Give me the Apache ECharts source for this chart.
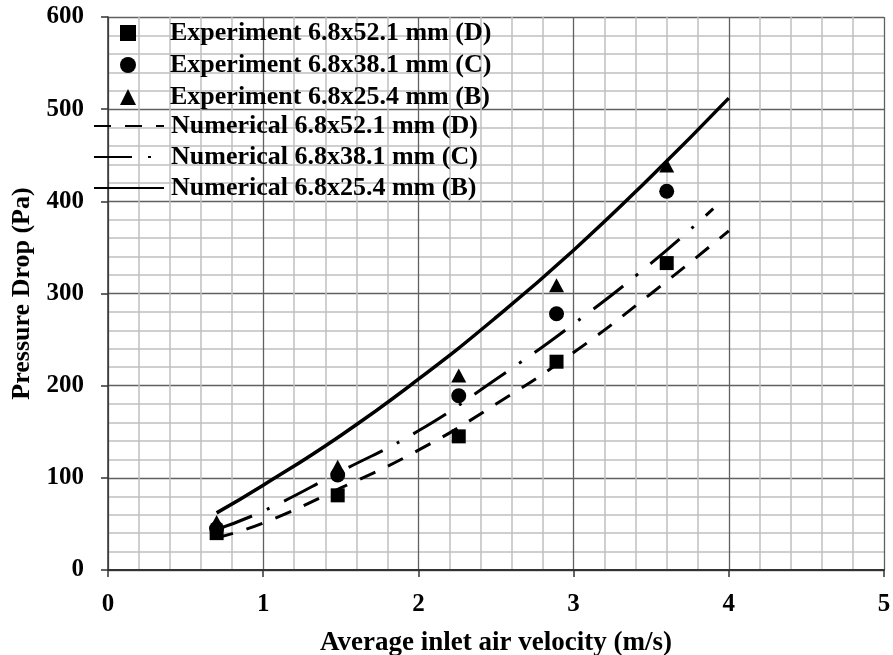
<!DOCTYPE html>
<html>
<head>
<meta charset="utf-8">
<script src="https://cdn.jsdelivr.net/npm/echarts@6/dist/echarts.min.js"></script>
<style>
html,body{margin:0;padding:0;background:#fff;}
#chart{width:893px;height:655px;}
</style>
</head>
<body>
<div id="chart"></div>
<script>
// ---- data ----
const xExp = [0.7, 1.48, 2.26, 2.89, 3.6];
const expD = [40, 81, 145, 226, 333];
const expC = [45, 103, 189, 278, 411];
const expB = [52, 112, 211, 309, 439];

const xNumBD = [0.7, 1.0, 1.5, 2.0, 2.5, 3.0, 3.5, 4.0];
const numD = [35, 51, 89, 130, 180, 236, 300, 368];
const numB = [62, 92, 146, 207, 274, 347, 427, 512];
const xNumC = [0.7, 1.0, 1.5, 2.0, 2.5, 3.0, 3.5, 3.9];
const numC = [44, 64, 107, 151, 207, 267, 333, 392];

const xTicks = [0, 1, 2, 3, 4, 5];
const yTicks = [0, 100, 200, 300, 400, 500, 600];

const names = {
  eD: 'Experiment 6.8x52.1 mm (D)',
  eC: 'Experiment 6.8x38.1 mm (C)',
  eB: 'Experiment 6.8x25.4 mm (B)',
  nD: 'Numerical 6.8x52.1 mm (D)',
  nC: 'Numerical 6.8x38.1 mm (C)',
  nB: 'Numerical 6.8x25.4 mm (B)'
};

function pairs(xs, ys) { return xs.map((x, i) => [x, ys[i]]); }

const FONT = 'Liberation Serif';
const chart = echarts.init(document.getElementById('chart'), null, {renderer: 'canvas'});

const option = {
  animation: false,
  backgroundColor: '#ffffff',
  grid: {left: 108, right: 9, top: 17, bottom: 85, containLabel: false, outerBoundsMode: 'none'},
  xAxis: {
    type: 'value', min: xTicks[0], max: xTicks[xTicks.length - 1], interval: 1,
    name: 'Average inlet air velocity (m/s)', nameLocation: 'middle', nameGap: 60,
    nameTextStyle: {fontFamily: FONT, fontWeight: 'bold', fontSize: 27, color: '#000'},
    axisLine: {show: true, onZero: false, lineStyle: {color: '#333', width: 2}},
    axisTick: {show: true, length: 7, lineStyle: {color: '#333', width: 1.5}},
    axisLabel: {fontFamily: FONT, fontWeight: 'bold', fontSize: 25, color: '#000', margin: 22},
    splitLine: {show: true, lineStyle: {color: '#606060', width: 1.3}},
    minorTick: {show: false, splitNumber: 5},
    minorSplitLine: {show: true, lineStyle: {color: '#c0c0c0', width: 1.5}}
  },
  yAxis: {
    type: 'value', min: yTicks[0], max: yTicks[yTicks.length - 1], interval: 100,
    name: 'Pressure Drop (Pa)', nameLocation: 'middle', nameGap: 63,
    nameTextStyle: {fontFamily: FONT, fontWeight: 'bold', fontSize: 26, color: '#000'},
    axisLine: {show: true, onZero: false, lineStyle: {color: '#333', width: 1.5}},
    axisTick: {show: true, length: 7, lineStyle: {color: '#333', width: 1.5}},
    axisLabel: {fontFamily: FONT, fontWeight: 'bold', fontSize: 25, color: '#000', margin: 24},
    splitLine: {show: true, lineStyle: {color: '#606060', width: 1.3}},
    minorTick: {show: false, splitNumber: 5},
    minorSplitLine: {show: true, lineStyle: {color: '#c0c0c0', width: 1.5}}
  },
  legend: [
    {
      orient: 'vertical', left: 120, top: 20, padding: 0, itemGap: 6,
      itemWidth: 16, itemHeight: 16, selectedMode: false,
      itemStyle: {opacity: 1},
      textStyle: {fontFamily: FONT, fontWeight: 'bold', fontSize: 26, color: '#000', lineHeight: 26, padding: [0, 0, 0, 29]},
      data: [
        {name: names.eD, icon: 'rect'},
        {name: names.eC, icon: 'circle'},
        {name: names.eB, icon: 'triangle'}
      ]
    },
    {
      orient: 'vertical', left: 93, top: 113, padding: 0, itemGap: 5,
      itemWidth: 70, itemHeight: 16, selectedMode: false,
      itemStyle: {color: 'rgba(0,0,0,0)', borderWidth: 0, opacity: 0},
      textStyle: {fontFamily: FONT, fontWeight: 'bold', fontSize: 26, color: '#000', lineHeight: 26, padding: [0, 0, 0, 2]},
      data: [names.nD, names.nC, names.nB]
    }
  ],
  series: [
    {
      name: names.nD, type: 'line', data: pairs(xNumBD, numD), smooth: true,
      showSymbol: false, symbol: 'none', z: 3,
      lineStyle: {color: '#000', width: 3, type: [17, 14], cap: 'butt'},
      itemStyle: {color: '#000'}
    },
    {
      name: names.nC, type: 'line', data: pairs(xNumC, numC), smooth: true,
      showSymbol: false, symbol: 'none', z: 3,
      lineStyle: {color: '#000', width: 3, type: [38, 16, 3, 16], cap: 'butt'},
      itemStyle: {color: '#000'}
    },
    {
      name: names.nB, type: 'line', data: pairs(xNumBD, numB), smooth: true,
      showSymbol: false, symbol: 'none', z: 3,
      lineStyle: {color: '#000', width: 3.5, type: 'solid'},
      itemStyle: {color: '#000'}
    },
    {
      name: names.eD, type: 'scatter', data: pairs(xExp, expD),
      symbol: 'rect', symbolSize: 14, itemStyle: {color: '#000', opacity: 1}, z: 4
    },
    {
      name: names.eC, type: 'scatter', data: pairs(xExp, expC),
      symbol: 'circle', symbolSize: 15, itemStyle: {color: '#000', opacity: 1}, z: 4
    },
    {
      name: names.eB, type: 'scatter', data: pairs(xExp, expB),
      symbol: 'triangle', symbolSize: [15, 14], itemStyle: {color: '#000', opacity: 1}, z: 4
    }
  ]
};
chart.setOption(option);
</script>
</body>
</html>
